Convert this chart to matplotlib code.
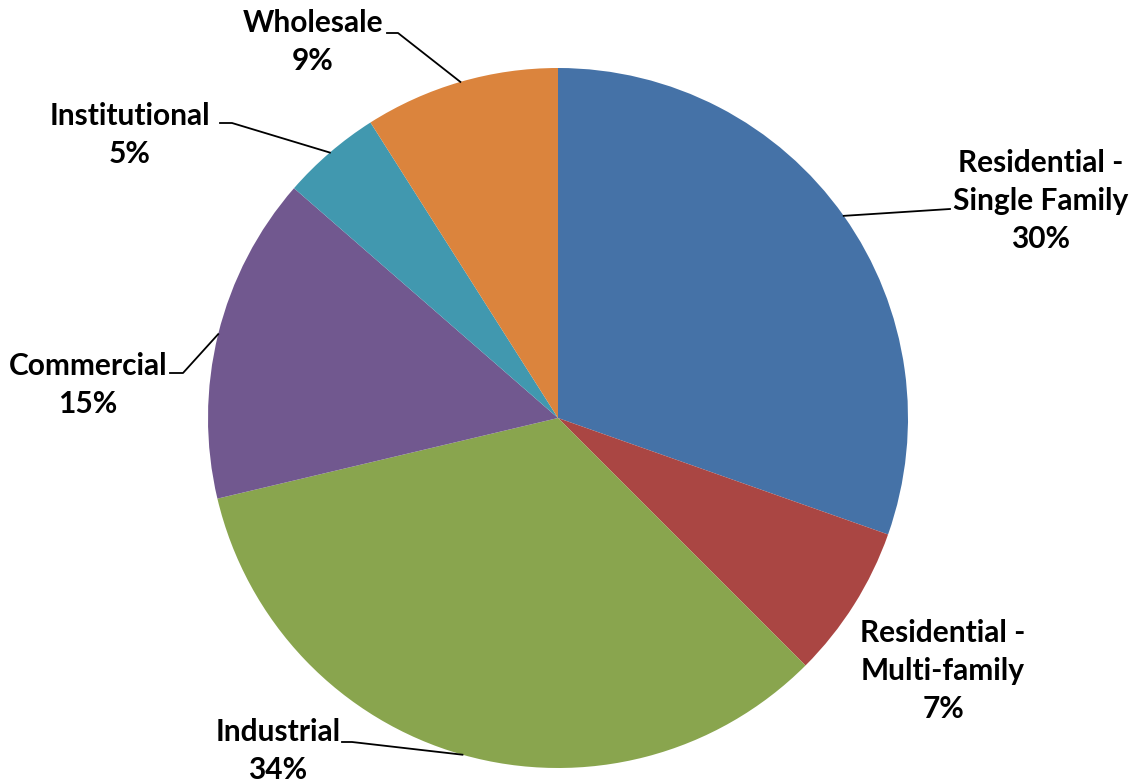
import matplotlib.pyplot as plt
import numpy as np

# Sector shares (percent), clockwise from 12 o'clock
categories = ["Residential -\nSingle Family", "Residential -\nMulti-family", "Industrial",
              "Commercial", "Institutional", "Wholesale"]
shares = [30.4, 7.1, 33.8, 15.1, 4.6, 9.0]
colors = ["#4572A7", "#AA4643", "#89A54E", "#71588F", "#4198AF", "#DB843D"]

W, H = 1134, 784
CX, CY, R = 558, 418, 350   # pie centre / radius in pixels (y from top)

# label centre (x, y from top) and leader start/elbow (x0, x1, y) or None
label_pos = [(1041, 201), (943, 671), (278, 751), (88, 385), (130, 135), (313, 42)]
leaders = [(950, 950, 209), None, (342, 352, 742), (170, 183, 373), (220, 232, 123), (387, 398, 33)]

plt.rcParams['font.family'] = ['Lato', 'DejaVu Sans']

fig = plt.figure(figsize=(W / 100, H / 100), dpi=100)
ax = fig.add_axes([0, 0, 1, 1])

wedges, _ = ax.pie(shares, colors=colors, startangle=90, counterclock=False,
                   center=(CX, H - CY), radius=R, wedgeprops=dict(linewidth=0))
ax.set_xlim(0, W)
ax.set_ylim(0, H)
ax.set_aspect('equal')
ax.axis('off')

for w, name, val, pos, ld in zip(wedges, categories, shares, label_pos, leaders):
    ax.text(pos[0], H - pos[1], f"{name}\n{round(val):.0f}%", ha='center', va='center',
            fontsize=21.5, fontweight='bold', linespacing=1.45, color='black')
    if ld is None:
        continue
    mid = np.deg2rad((w.theta1 + w.theta2) / 2)
    px, py = CX + R * np.cos(mid), (H - CY) + R * np.sin(mid)
    x0, x1, y = ld
    ax.plot([x0, x1, px], [H - y, H - y, py], color='black', linewidth=1.3)

fig.savefig("out.png", dpi=100)
